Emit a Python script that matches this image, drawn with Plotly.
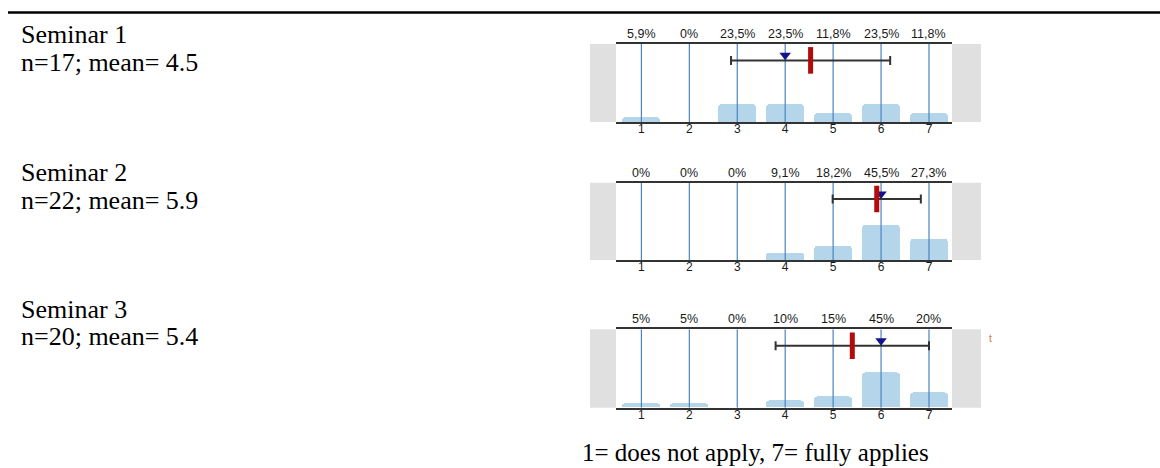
import plotly.graph_objects as go

# ---------------- data ----------------
categories = [1, 2, 3, 4, 5, 6, 7]
seminar_names = ["Seminar 1", "Seminar 2", "Seminar 3"]
n_values = [17, 22, 20]
mean_labels = ["4.5", "5.9", "5.4"]
pct_s1 = [5.9, 0, 23.5, 23.5, 11.8, 23.5, 11.8]
pct_s2 = [0, 0, 0, 9.1, 18.2, 45.5, 27.3]
pct_s3 = [5, 5, 0, 10, 15, 45, 20]
means = [4.53, 5.91, 5.40]
sds = [1.66, 0.92, 1.60]
medians = [4, 6, 6]
caption = "1= does not apply, 7= fully applies"

percents = [pct_s1, pct_s2, pct_s3]

# ---------------- layout constants (pixels) ----------------
W, H = 1160, 468
px_x = lambda p: p / W
px_y = lambda p: 1 - p / H

panel_px = [(44, 122), (182.7, 260), (329.3, 407.7)]  # top, bottom
text_px = [(35, 63), (172.5, 200), (309, 336)]
x_left, x_right = 616, 952
grey_left = (590, 616)
grey_right = (952, 981)
bar_y = 0.79
tri_offset = 0.065

serif = "Liberation Serif, Times New Roman, serif"
sans = "Liberation Sans, Arial, sans-serif"

def fmt(v):
    if float(v).is_integer():
        return f"{int(v)}%"
    return f"{v:.1f}%".replace(".", ",")

fig = go.Figure()
annotations = []
shapes = []
layout_axes = {}

for i in range(3):
    k = "" if i == 0 else str(i + 1)
    xa, ya = "x" + k, "y" + k
    top, bot = panel_px[i]
    ydom = [px_y(bot), px_y(top)]

    fig.add_trace(go.Bar(
        x=categories, y=[p / 100 for p in percents[i]],
        width=0.79, xaxis=xa, yaxis=ya,
        marker=dict(color="#b4d5ea", cornerradius=4, line=dict(width=0)),
        showlegend=False, hoverinfo="skip"))

    # vertical category lines (drawn over bars)
    gx, gy = [], []
    for c in categories:
        gx += [c, c, None]
        gy += [0, 1, None]
    fig.add_trace(go.Scatter(
        x=gx, y=gy, mode="lines", xaxis=xa, yaxis=ya,
        line=dict(color="#4a84c2", width=1.2),
        showlegend=False, hoverinfo="skip"))

    # mean +/- SD
    fig.add_trace(go.Scatter(
        x=[means[i]], y=[bar_y], mode="markers", xaxis=xa, yaxis=ya,
        marker=dict(size=1, color="rgba(0,0,0,0)"),
        error_x=dict(type="data", array=[sds[i]], color="#333333", thickness=2, width=4.5),
        showlegend=False, hoverinfo="skip"))
    # median triangle
    fig.add_trace(go.Scatter(
        x=[medians[i]], y=[bar_y + tri_offset], mode="markers", xaxis=xa, yaxis=ya,
        marker=dict(symbol="triangle-down", size=10, color="#14148a", line=dict(width=0)),
        showlegend=False, hoverinfo="skip"))
    # mean marker
    fig.add_trace(go.Scatter(
        x=[means[i]], y=[bar_y], mode="markers", xaxis=xa, yaxis=ya,
        marker=dict(symbol="line-ns", size=19, line=dict(width=5, color="#b40a0a")),
        showlegend=False, hoverinfo="skip"))

    layout_axes["xaxis" + k] = dict(
        domain=[px_x(x_left), px_x(x_right)], range=[0.47, 7.48], anchor=ya,
        tickmode="array", tickvals=categories, ticktext=[str(c) for c in categories],
        showgrid=False,
        showline=True, mirror=True, linecolor="#333333", linewidth=2,
        ticks="", zeroline=False, fixedrange=True,
        tickfont=dict(family=sans, size=12, color="#1a1a1a"),
        ticklabelstandoff=-5)
    layout_axes["yaxis" + k] = dict(
        domain=ydom, range=[0, 1.0], anchor=xa, visible=False, fixedrange=True)

    # grey side boxes
    for gxp in (grey_left, grey_right):
        shapes.append(dict(type="rect", xref="paper", yref="paper",
                           x0=px_x(gxp[0]), x1=px_x(gxp[1]), y0=ydom[0], y1=ydom[1],
                           fillcolor="#e0e0e0", line=dict(width=0), layer="below"))

    # percent labels above
    for c, p in zip(categories, percents[i]):
        annotations.append(dict(x=c, xref=xa, y=ydom[1], yref="paper",
                                text=fmt(p), showarrow=False, yanchor="middle",
                                yshift=10, font=dict(family=sans, size=12.5, color="#1a1a1a")))

    # left texts
    annotations.append(dict(x=px_x(19), y=px_y(text_px[i][0]), xref="paper", yref="paper",
                            text=seminar_names[i], showarrow=False, xanchor="left",
                            yanchor="middle", font=dict(family=serif, size=26, color="black")))
    annotations.append(dict(x=px_x(19), y=px_y(text_px[i][1]), xref="paper", yref="paper",
                            text=f"n={n_values[i]}; mean= {mean_labels[i]}", showarrow=False,
                            xanchor="left", yanchor="middle",
                            font=dict(family=serif, size=26, color="black")))

# caption
annotations.append(dict(x=px_x(755), y=px_y(452), xref="paper", yref="paper",
                        text=caption, showarrow=False, xanchor="center", yanchor="middle",
                        font=dict(family=serif, size=25, color="black")))
# tiny artifact mark
annotations.append(dict(x=px_x(990), y=px_y(338), xref="paper", yref="paper",
                        text="t", showarrow=False, xanchor="center", yanchor="middle",
                        font=dict(family=sans, size=10, color="#c8783c")))

# top rule
shapes.append(dict(type="line", xref="paper", yref="paper",
                   x0=px_x(8), x1=1, y0=px_y(12.5), y1=px_y(12.5),
                   line=dict(color="black", width=2.5)))

fig.update_layout(
    width=W, height=H, margin=dict(l=0, r=0, t=0, b=0),
    paper_bgcolor="white", plot_bgcolor="white",
    bargap=0, annotations=annotations, shapes=shapes,
    **layout_axes)

fig.write_html("out.html", config={"displayModeBar": False},
               post_script="document.body.style.margin='0';document.body.style.overflow='hidden';")
